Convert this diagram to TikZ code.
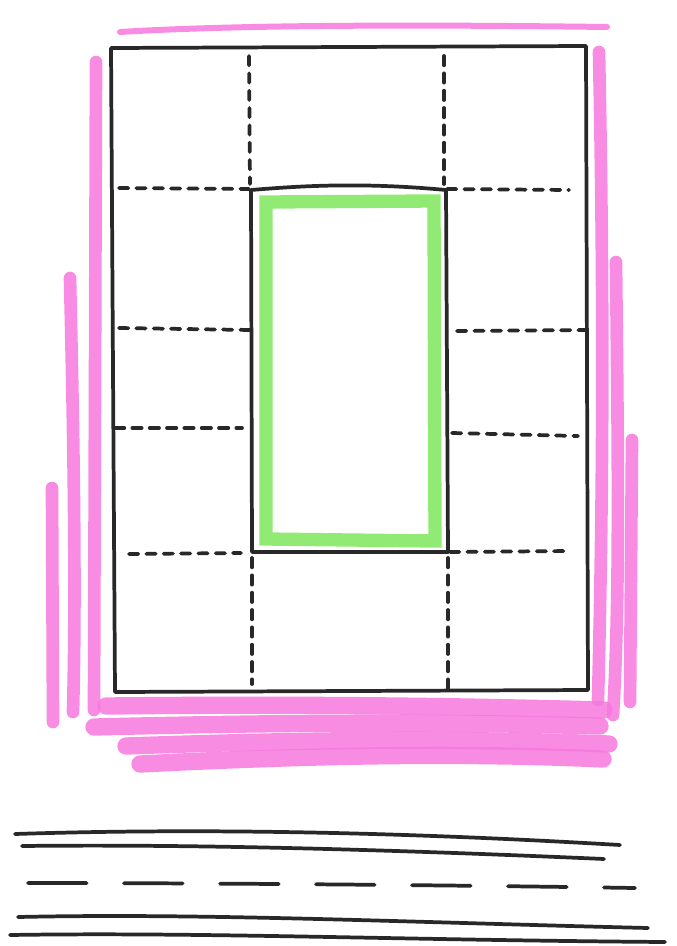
\documentclass[tikz,border=0pt]{standalone}
\usepackage{tikz}

\begin{document}
\begin{tikzpicture}[x=0.75pt,y=0.75pt,yscale=-1,xscale=1,
  pen/.style={color={rgb, 255:red, 40; green, 40; blue, 40 },line width=2.8pt,line cap=round,line join=round},
  pendash/.style={pen,dash pattern=on 7pt off 6pt},
  roaddash/.style={pen,dash pattern=on 44pt off 28pt},
  pinkmark/.style={color={rgb, 255:red, 247; green, 120; blue, 222 },line width=9.5pt,line cap=round,opacity=0.85},
  greenmark/.style={color={rgb, 255:red, 145; green, 234; blue, 115 },line width=10pt,line cap=butt}]
\useasboundingbox (0,0) rectangle (677,946);

%Pink marker, top
\draw [pinkmark,line width=4.5pt]    (120,32) .. controls (250,24) and (450,25) .. (607,27) ;
%Pink marker, left side
\draw [pinkmark]    (96,62) -- (94,710) ;
\draw [pinkmark]    (70,278) .. controls (74,450) and (76,600) .. (73,712) ;
\draw [pinkmark]    (52,488) -- (53,722) ;
%Pink marker, right side
\draw [pinkmark]    (599,52) .. controls (604,300) and (603,500) .. (598,700) ;
\draw [pinkmark]    (616,262) .. controls (618,450) and (620,600) .. (613,715) ;
\draw [pinkmark]    (632,440) -- (630,702) ;
%Pink marker, bottom
\draw [pinkmark,line width=13pt]    (106,706) .. controls (300,704) and (450,706) .. (604,710) ;
\draw [pinkmark,line width=13pt]    (94,727) .. controls (300,722) and (450,722) .. (600,726) ;
\draw [pinkmark,line width=13pt]    (126,746) .. controls (300,740) and (450,738) .. (609,744) ;
\draw [pinkmark,line width=13pt]    (140,764) .. controls (300,756) and (450,752) .. (603,759) ;

%Outer rectangle
\draw [pen]    (111,48) -- (586,46) -- (588,690) -- (115,692) -- cycle ;
%Vertical dashed lines
\draw [pendash]    (249,56) -- (250,184) ;
\draw [pendash]    (444,56) -- (444,184) ;
\draw [pendash]    (252,558) -- (252,684) ;
\draw [pendash]    (448,558) -- (448,688) ;
%Horizontal dashed lines, left
\draw [pendash]    (119,188) -- (249,189) ;
\draw [pendash]    (119,328) -- (251,330) ;
\draw [pendash]    (115,428) -- (242,428) ;
\draw [pendash]    (129,554) -- (241,553) ;
%Horizontal dashed lines, right
\draw [pendash]    (447,189) -- (569,190) ;
\draw [pendash]    (457,331) -- (585,330) ;
\draw [pendash]    (452,433) -- (578,436) ;
\draw [pendash]    (450,552) -- (570,551) ;

%Green inner rectangle
\draw [greenmark]    (266,202) -- (434,201) -- (435,541) -- (266,539) -- cycle ;
%Central rectangle
\draw [pen]    (251,190) .. controls (300,186) and (360,182) .. (446,190) -- (448,552) -- (252,552) -- cycle ;

%Road
\draw [pen]    (15,834) .. controls (200,828) and (400,832) .. (620,845) ;
\draw [pen]    (22,846) .. controls (200,844) and (400,850) .. (604,859) ;
\draw [roaddash]    (28,883) .. controls (200,883) and (450,885) .. (635,888) ;
\draw [pen]    (18,917) .. controls (200,913) and (400,922) .. (648,928) ;
\draw [pen]    (10,935) .. controls (200,932) and (400,940) .. (665,942) ;
\end{tikzpicture}
\end{document}
